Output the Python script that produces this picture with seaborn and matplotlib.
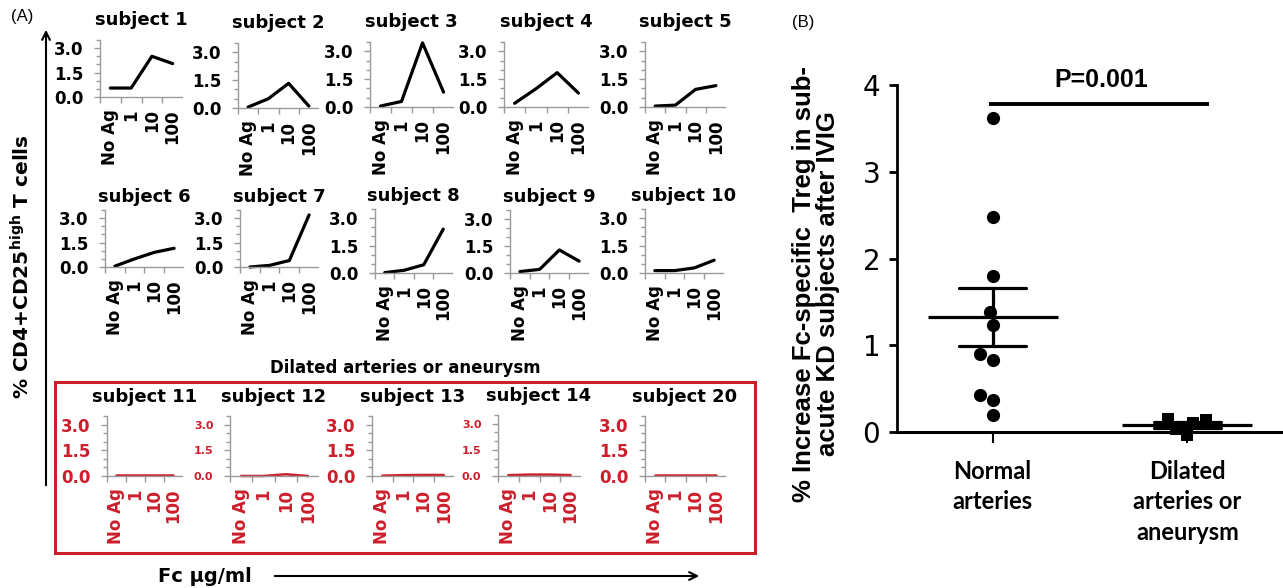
import numpy as np
import pandas as pd
import matplotlib
matplotlib.use("Agg")
import matplotlib.pyplot as plt
import seaborn as sns
from matplotlib.patches import Rectangle
from matplotlib.ticker import MultipleLocator, FixedLocator

# ---------------- data ----------------
doses = ["No Ag", "1", "10", "100"]

# normal arteries (black)
s1 = [0.55, 0.55, 2.50, 2.05]
s2 = [0.05, 0.50, 1.33, 0.10]
s3 = [0.05, 0.30, 3.45, 0.80]
s4 = [0.20, 0.98, 1.85, 0.75]
s5 = [0.05, 0.10, 0.95, 1.15]
s6 = [0.05, 0.50, 0.90, 1.15]
s7 = [0.00, 0.10, 0.40, 3.20]
s8 = [0.02, 0.15, 0.45, 2.40]
s9 = [0.08, 0.20, 1.28, 0.66]
s10 = [0.13, 0.13, 0.28, 0.70]
# dilated arteries or aneurysm (red)
s11 = [0.05, 0.05, 0.05, 0.05]
s12 = [0.00, 0.00, 0.10, 0.00]
s13 = [0.02, 0.05, 0.06, 0.06]
s14 = [0.05, 0.08, 0.08, 0.05]
s20 = [0.05, 0.05, 0.05, 0.05]

normal_names = ["subject 1", "subject 2", "subject 3", "subject 4", "subject 5",
                "subject 6", "subject 7", "subject 8", "subject 9", "subject 10"]
dilated_names = ["subject 11", "subject 12", "subject 13", "subject 14", "subject 20"]

# panel B
groups = ["Normal\narteries", "Dilated\narteries or\naneurysm"]
normal_increase = [3.62, 2.48, 1.80, 1.38, 1.23, 0.90, 0.83, 0.43, 0.37, 0.20]
dilated_increase = [0.15, 0.10, -0.03, 0.03, 0.14]
b_yticks = [0, 1, 2, 3, 4]
p_text = "P=0.001"

# ---------------- layout ----------------
W, H = 1283, 588
sns.set_style("white")
plt.rcParams["font.family"] = ["DejaVu Sans"]
plt.rcParams["mathtext.fontset"] = "dejavusans"
for k in ["text.color", "axes.labelcolor", "xtick.color", "ytick.color", "axes.titlecolor"]:
    plt.rcParams[k] = "black"

fig = plt.figure(figsize=(W / 100, H / 100), dpi=100)


def rect(l, r, top, bottom):
    return [l / W, 1 - bottom / H, (r - l) / W, (bottom - top) / H]


# overlay in pixel coordinates for annotations
ov = fig.add_axes([0, 0, 1, 1])
ov.set_xlim(0, W)
ov.set_ylim(H, 0)
ov.axis("off")
ov.patch.set_alpha(0)

RED = "#cc1f2b"
GRAY = "#9a9a9a"

row_boxes = [
    [(100, 182, 40, 97), (238, 318, 43, 108), (370, 453, 42, 107), (504, 588, 42, 107), (645, 725, 42, 107)],
    [(105, 183, 210, 267), (240, 318, 210, 267), (375, 452, 209, 273), (510, 588, 210, 273), (645, 723, 209, 273)],
    [(107, 182, 416, 476), (230, 318, 416, 476), (372, 453, 416, 476), (498, 580, 415, 476), (645, 725, 416, 476)],
]
row_pads = [11, 6, 10]

normal_series = [s1, s2, s3, s4, s5, s6, s7, s8, s9, s10]
dilated_series = [s11, s12, s13, s14, s20]
red_label_sizes = [12, 8, 12, 8, 12]

x_pos = np.arange(len(doses))


def small_axes(box, name, vals, color, pad, ylab_size):
    ax = fig.add_axes(rect(*box))
    sns.lineplot(x=x_pos, y=vals, ax=ax, color=color,
                 linewidth=2.3 if color == "black" else 1.8, clip_on=False)
    ax.set_xlim(-0.5, 3.45)
    ax.set_ylim(0, 3.5)
    ax.set_yticks([0, 1.5, 3.0])
    ax.set_yticklabels(["0.0", "1.5", "3.0"], fontsize=ylab_size, fontweight="bold", color=color)
    ax.yaxis.set_minor_locator(MultipleLocator(0.5))
    ax.set_xticks(x_pos)
    ax.set_xticklabels(doses, rotation=90, fontsize=12, fontweight="bold", color=color)
    ax.xaxis.set_minor_locator(FixedLocator([-0.5, 0.5, 1.5, 2.5]))
    ax.tick_params(axis="x", which="major", length=0, pad=9)
    ax.tick_params(axis="x", which="minor", length=4, color=GRAY, width=1, bottom=True)
    ax.tick_params(axis="y", which="major", length=4, color=GRAY, width=1, pad=8, left=True)
    ax.tick_params(axis="y", which="minor", length=3, color=GRAY, width=1, left=True)
    for sp in ["top", "right"]:
        ax.spines[sp].set_visible(False)
    for sp in ["left", "bottom"]:
        ax.spines[sp].set_color(GRAY)
        ax.spines[sp].set_linewidth(1)
    ax.set_xlabel("")
    ax.set_ylabel("")
    ax.set_title(name, fontsize=13, fontweight="bold", pad=pad, color="black")
    ax.patch.set_alpha(0)
    return ax


for i in range(10):
    r, c = divmod(i, 5)
    small_axes(row_boxes[r][c], normal_names[i], normal_series[i], "black", row_pads[r], 12)
for c in range(5):
    small_axes(row_boxes[2][c], dilated_names[c], dilated_series[c], RED, row_pads[2], red_label_sizes[c])

# panel A decorations
ov.text(22, 16, "(A)", fontsize=12, ha="center", va="center", family="Liberation Sans")
ov.annotate("", xy=(46, 27), xytext=(46, 488),
            arrowprops=dict(arrowstyle="->", lw=1.5, color="black", mutation_scale=14))
ov.text(22, 267, r"% CD4+CD25$^{\mathbf{high}}$ T cells", rotation=90, fontsize=14.5,
        fontweight="bold", ha="center", va="center")
ov.text(405, 368, "Dilated arteries or aneurysm", fontsize=12, fontweight="bold",
        ha="center", va="center")
ov.add_patch(Rectangle((55, 382), 700, 171, fill=False, edgecolor=RED, lw=2.2))
ov.text(205, 576, "Fc μg/ml", fontsize=14, fontweight="bold", ha="center", va="center")
ov.annotate("", xy=(702, 576), xytext=(272, 576),
            arrowprops=dict(arrowstyle="->", lw=1.5, color="black", mutation_scale=14))

# ---------------- panel B ----------------
ov.text(803, 23, "(B)", fontsize=12, ha="center", va="center", family="Liberation Sans")
ov.text(816, 284, "% Increase Fc-specific  Treg in sub-\nacute KD subjects after IVIG",
        rotation=90, fontsize=18.5, fontweight="bold", ha="center", va="center",
        family="Liberation Sans", linespacing=0.95)

y0_px, unit_px = 432, 86.75
ylo, yhi = -0.35, 4.25
axB = fig.add_axes(rect(897, 1283, y0_px - yhi * unit_px, y0_px - ylo * unit_px))
axB.patch.set_alpha(0)

df_n = pd.DataFrame({"group": groups[0], "value": normal_increase})
df_d = pd.DataFrame({"group": groups[1], "value": dilated_increase})
df_all = pd.concat([df_n, df_d], ignore_index=True)

sns.swarmplot(data=df_n, x="group", y="value", order=groups, color="black",
              marker="o", size=9.5, ax=axB)
sns.swarmplot(data=df_d, x="group", y="value", order=groups, color="black",
              marker="s", size=9, ax=axB)
sns.pointplot(data=df_all, x="group", y="value", order=groups, errorbar="se",
              capsize=0.34, color="black", marker="_", markersize=94,
              markeredgewidth=2.3, linestyle="none", err_kws={"linewidth": 2.3}, ax=axB)

axB.set_xlim(-0.49, 1.49)
axB.set_ylim(ylo, yhi)
axB.set_xlabel("")
axB.set_ylabel("")
axB.set_yticks(b_yticks)
axB.set_yticklabels([str(v) for v in b_yticks])
axB.set_xticks(range(len(groups)))
axB.set_xticklabels([""] * len(groups))
axB.tick_params(axis="y", length=6, width=2, pad=6, left=True, color="black",
                labelsize=20, labelcolor="black", labelfontfamily="Liberation Sans Narrow")
axB.tick_params(axis="x", length=8, width=1.5, bottom=True, color="black")
for i, g in enumerate(groups):
    axB.text(i, -0.32, g, fontsize=17, fontweight="bold", family=["Lato", "DejaVu Sans"],
             ha="center", va="top", linespacing=1.4, clip_on=False, color="black")
for sp in ["top", "right"]:
    axB.spines[sp].set_visible(False)
axB.spines["left"].set_bounds(0, 4)
axB.spines["left"].set_linewidth(2)
axB.spines["left"].set_color("black")
axB.spines["bottom"].set_position(("data", 0))
axB.spines["bottom"].set_linewidth(2.2)
axB.spines["bottom"].set_color("black")

# significance bar
axB.plot([-0.02, 1.11], [3.78, 3.78], color="black", lw=2.8, solid_capstyle="butt")
axB.text(0.56, 4.06, p_text, fontsize=18, fontweight="bold", ha="center", va="center",
         family="Liberation Sans")

fig.savefig("out.png", dpi=100, facecolor="white")
